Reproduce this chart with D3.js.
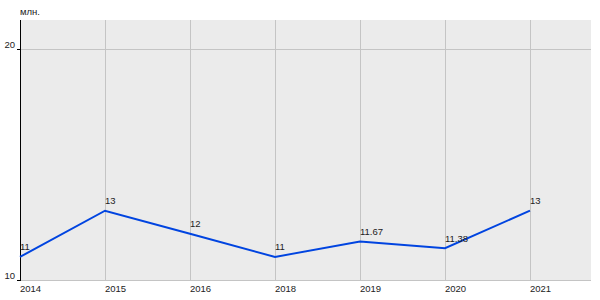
<!DOCTYPE html>
<html>
<head>
<meta charset="utf-8">
<script src="https://cdn.jsdelivr.net/npm/d3@7"></script>
<style>
  html, body { margin: 0; padding: 0; background: #ffffff; }
  svg { display: block; }
  text { font-family: Arial, "Liberation Sans", sans-serif; font-size: 9.5px; fill: #222; }
</style>
</head>
<body>
<svg id="chart" width="600" height="300"></svg>
<script>
const years = ["2014", "2015", "2016", "2018", "2019", "2020", "2021"];
const values = [11, 13, 12, 11, 11.67, 11.38, 13];
const valueLabels = ["11", "13", "12", "11", "11.67", "11.38", "13"];
const yTicks = [10, 20];
const unitLabel = "млн.";

(function () {
const svg = d3.select("#chart");
const pL = 20, pR = 591, pT = 20, pB = 280;

const x = d3.scalePoint().domain(years).range([20, 530]);
const y = d3.scaleLinear().domain([10, 20]).range([280, 49]);

// background
svg.append("rect")
  .attr("x", pL).attr("y", pT)
  .attr("width", pR - pL).attr("height", pB - pT)
  .attr("fill", "#ebebeb");

// horizontal grid
svg.selectAll(".hgrid").data(yTicks.filter(d => d !== 10)).enter()
  .append("line")
  .attr("x1", pL).attr("x2", pR)
  .attr("y1", d => Math.round(y(d)) + 0.5).attr("y2", d => Math.round(y(d)) + 0.5)
  .attr("stroke", "#c4c4c4").attr("stroke-width", 1);

// vertical grid
svg.selectAll(".vgrid").data(years.slice(1)).enter()
  .append("line")
  .attr("x1", d => Math.round(x(d)) + 0.5).attr("x2", d => Math.round(x(d)) + 0.5)
  .attr("y1", pT).attr("y2", pB)
  .attr("stroke", "#c4c4c4").attr("stroke-width", 1);

// bottom axis line
svg.append("line")
  .attr("x1", pL).attr("x2", pR)
  .attr("y1", pB + 0.5).attr("y2", pB + 0.5)
  .attr("stroke", "#c4c4c4").attr("stroke-width", 1);

// y axis line
svg.append("line")
  .attr("x1", pL + 0.5).attr("x2", pL + 0.5)
  .attr("y1", pT).attr("y2", pB + 1)
  .attr("stroke", "#000").attr("stroke-width", 1);

// y ticks
svg.selectAll(".ytick").data(yTicks).enter()
  .append("line")
  .attr("x1", pL - 3).attr("x2", pL)
  .attr("y1", d => Math.round(y(d)) + 0.5).attr("y2", d => Math.round(y(d)) + 0.5)
  .attr("stroke", "#000");

svg.selectAll(".ylab").data(yTicks).enter()
  .append("text")
  .attr("x", pL - 5).attr("y", d => y(d) - 1)
  .attr("text-anchor", "end")
  .text(d => d);

// x labels
svg.selectAll(".xlab").data(years).enter()
  .append("text")
  .attr("x", d => x(d)).attr("y", 292)
  .text(d => d);

// unit label
svg.append("text").attr("x", 20).attr("y", 15).text(unitLabel);

// line
const line = d3.line().x((d, i) => x(years[i])).y(d => y(d));
svg.append("path")
  .datum(values)
  .attr("d", line)
  .attr("fill", "none")
  .attr("stroke", "#0044e0")
  .attr("stroke-width", 2);

// value labels
svg.selectAll(".vlab").data(values).enter()
  .append("text")
  .attr("x", (d, i) => x(years[i]))
  .attr("y", d => y(d) - 6.5)
  .text((d, i) => valueLabels[i]);
})();
</script>
</body>
</html>
